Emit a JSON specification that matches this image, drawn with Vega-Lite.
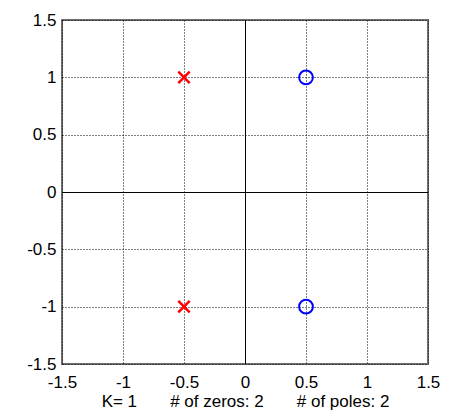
{
  "$schema": "https://vega.github.io/schema/vega-lite/v6.json",
  "autosize": "none",
  "width": 366,
  "height": 344,
  "padding": {"left": 62, "top": 20, "right": 21, "bottom": 52},
  "background": "white",
  "config": {
    "view": {"stroke": "#707070", "strokeWidth": 2},
    "axis": {
      "labelFont": "Liberation Sans",
      "labelFontSize": 17,
      "labelColor": "black",
      "ticks": false,
      "domain": false,
      "grid": true,
      "gridColor": "black",
      "gridDash": [1, 2],
      "gridOpacity": 1,
      "gridWidth": 1,
      "labelFlush": false,
      "labelOverlap": false,
      "titleFont": "Liberation Sans",
      "titleFontSize": 17,
      "titleFontWeight": "normal",
      "titleColor": "black"
    }
  },
  "data": {
    "values": [
      {"re": -0.5, "im": 1, "type": "pole"},
      {"re": -0.5, "im": -1, "type": "pole"},
      {"re": 0.5, "im": 1, "type": "zero"},
      {"re": 0.5, "im": -1, "type": "zero"}
    ]
  },
  "encoding": {
    "x": {
      "field": "re",
      "type": "quantitative",
      "scale": {"domain": [-1.5, 1.5], "nice": false, "zero": false},
      "axis": {
        "values": [-1.5, -1, -0.5, 0, 0.5, 1, 1.5],
        "labelExpr": "datum.value + ''",
        "labelPadding": 10,
        "title": "K=\u00a01\u00a0\u00a0\u00a0\u00a0\u00a0\u00a0\u00a0#\u00a0of\u00a0zeros:\u00a02\u00a0\u00a0\u00a0\u00a0\u00a0\u00a0\u00a0#\u00a0of\u00a0poles:\u00a02",
        "titlePadding": 3
      }
    },
    "y": {
      "field": "im",
      "type": "quantitative",
      "scale": {"domain": [-1.5, 1.5], "nice": false, "zero": false},
      "axis": {
        "values": [-1.5, -1, -0.5, 0, 0.5, 1, 1.5],
        "labelExpr": "datum.value + ''",
        "labelPadding": 6,
        "title": null
      }
    }
  },
  "layer": [
    {
      "mark": {"type": "rule", "color": "black", "strokeWidth": 1, "xOffset": 0.5},
      "encoding": {"x": {"datum": 0}, "y": null}
    },
    {
      "mark": {"type": "rule", "color": "black", "strokeWidth": 1, "yOffset": 0.5},
      "encoding": {"y": {"datum": 0}, "x": null}
    },
    {
      "transform": [{"filter": "datum.type == 'pole'"}],
      "mark": {
        "type": "point",
        "shape": "M-1,-1L1,1M1,-1L-1,1",
        "filled": false,
        "color": "#ff0000",
        "strokeWidth": 2.5,
        "size": 130,
        "opacity": 1
      }
    },
    {
      "transform": [{"filter": "datum.type == 'zero'"}],
      "mark": {
        "type": "point",
        "shape": "circle",
        "filled": false,
        "color": "#0000ff",
        "strokeWidth": 2,
        "size": 190,
        "opacity": 1
      }
    }
  ]
}
